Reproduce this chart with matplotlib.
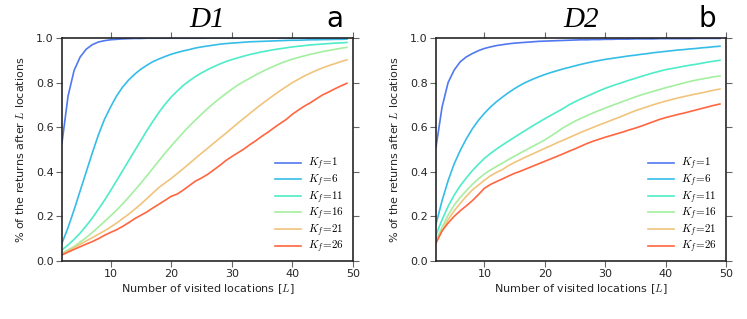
import matplotlib
matplotlib.use("Agg")
import matplotlib.pyplot as plt
import numpy as np

plt.rcParams['mathtext.fontset'] = 'cm'
plt.rcParams['font.family'] = ['DejaVu Sans']

L = list(range(2, 50))
kf_labels = ["$K_f\\!=\\!1$", "$K_f\\!=\\!6$", "$K_f\\!=\\!11$",
             "$K_f\\!=\\!16$", "$K_f\\!=\\!21$", "$K_f\\!=\\!26$"]

# Panel a (D1)
d1_kf1 = [.53, .74, .855, .915, .95, .97, .982, .988, .992, .994, .996, .997, .998, .998,
          .999, .999, .999, .999, .999, .999, .999, .999, .999, .999, 1, 1, 1, 1, 1, 1,
          1, 1, 1, 1, 1, 1, 1, 1, 1, 1, 1, 1, 1, 1, 1, 1, 1, 1]
d1_kf6 = [.08, .15, .23, .315, .40, .485, .565, .635, .69, .74, .78, .812, .838, .86,
          .878, .894, .906, .917, .927, .935, .942, .948, .955, .96, .964, .968, .972,
          .975, .977, .979, .981, .983, .984, .985, .986, .987, .988, .989, .99, .99,
          .991, .992, .992, .993, .993, .994, .994, .995]
d1_kf11 = [.05, .072, .097, .125, .158, .193, .232, .272, .315, .36, .405, .45, .495, .54,
           .585, .627, .667, .703, .735, .762, .787, .808, .827, .843, .858, .871, .883,
           .894, .903, .911, .919, .926, .932, .938, .943, .948, .952, .956, .96, .963,
           .966, .969, .971, .973, .975, .977, .978, .98]
d1_kf16 = [.035, .05, .065, .085, .105, .128, .152, .177, .202, .228, .256, .286, .317,
           .349, .382, .416, .45, .484, .515, .546, .576, .605, .632, .658, .683, .707,
           .729, .75, .77, .789, .805, .82, .835, .849, .862, .874, .886, .896, .905,
           .913, .92, .927, .933, .939, .944, .949, .954, .958]
d1_kf21 = [.03, .045, .06, .075, .09, .105, .12, .135, .152, .17, .19, .21, .232, .255,
           .28, .305, .33, .35, .37, .392, .414, .437, .46, .483, .505, .528, .55, .572,
           .595, .618, .64, .662, .684, .705, .725, .745, .764, .782, .80, .815, .83,
           .843, .855, .866, .876, .885, .894, .902]
d1_kf26 = [.027, .04, .052, .064, .076, .087, .10, .115, .128, .14, .155, .172, .19,
           .205, .22, .238, .255, .272, .29, .30, .318, .338, .358, .372, .388, .408,
           .428, .45, .468, .485, .502, .522, .54, .56, .578, .598, .617, .635, .658,
           .677, .695, .71, .728, .745, .758, .772, .785, .797]

# Panel b (D2)
d2_kf1 = [.51, .69, .80, .856, .893, .915, .93, .943, .953, .96, .966, .97, .974, .977,
          .979, .981, .983, .985, .986, .987, .988, .989, .99, .991, .992, .992, .993,
          .993, .994, .994, .995, .995, .995, .996, .996, .996, .996, .997, .997, .997,
          .997, .997, .997, .998, .998, .998, .998, .998]
d2_kf6 = [.165, .27, .36, .435, .495, .547, .592, .63, .662, .69, .714, .735, .755, .773,
          .789, .803, .815, .826, .836, .845, .853, .861, .868, .875, .882, .888, .894,
          .899, .904, .908, .912, .916, .92, .923, .927, .93, .934, .937, .94, .943,
          .946, .948, .951, .953, .956, .958, .961, .963]
d2_kf11 = [.117, .185, .245, .295, .337, .372, .405, .433, .46, .482, .502, .52, .538,
           .555, .572, .589, .606, .622, .638, .653, .668, .683, .70, .714, .727, .739,
           .751, .763, .774, .784, .793, .802, .811, .819, .828, .836, .844, .851, .858,
           .863, .868, .873, .878, .882, .887, .892, .896, .90]
d2_kf16 = [.095, .15, .205, .25, .285, .315, .343, .368, .39, .408, .424, .439, .455,
           .47, .485, .499, .514, .528, .543, .56, .578, .597, .612, .627, .64, .652,
           .664, .675, .686, .696, .706, .716, .726, .736, .745, .753, .761, .769, .777,
           .784, .791, .798, .805, .811, .816, .821, .826, .83]
d2_kf21 = [.085, .135, .185, .225, .258, .29, .318, .34, .362, .382, .397, .41, .428,
           .442, .455, .468, .48, .493, .505, .517, .53, .541, .553, .565, .577, .588,
           .599, .61, .62, .631, .641, .652, .663, .674, .683, .692, .701, .709, .717,
           .724, .731, .737, .743, .749, .754, .76, .766, .771]
d2_kf26 = [.08, .135, .17, .20, .225, .247, .27, .297, .326, .343, .356, .368, .381,
           .393, .403, .414, .425, .436, .447, .458, .469, .48, .492, .503, .515, .527,
           .537, .546, .555, .563, .571, .579, .588, .596, .605, .615, .625, .635, .643,
           .65, .657, .663, .67, .677, .684, .691, .698, .704]

panels = [
    ("D1", "a", [d1_kf1, d1_kf6, d1_kf11, d1_kf16, d1_kf21, d1_kf26]),
    ("D2", "b", [d2_kf1, d2_kf6, d2_kf11, d2_kf16, d2_kf21, d2_kf26]),
]
colors = ['#5078f0', '#35bde8', '#4eecc8', '#a4efa0', '#f0c47c', '#ff6640']

fig = plt.figure(figsize=(7.47, 3.19), dpi=100)
rects = [[62/747, 58/319, 291/747, 223/319], [436/747, 58/319, 290/747, 223/319]]
for (title, letter, series), rect in zip(panels, rects):
    ax = fig.add_axes(rect)
    for ys, c, lab in zip(series, colors, kf_labels):
        ax.plot(L, ys, color=c, lw=1.2, label=lab)
    ax.set_xlim(2, 50)
    ax.set_ylim(0, 1.0)
    ax.set_xticks([10, 20, 30, 40, 50])
    ax.set_yticks([0.0, 0.2, 0.4, 0.6, 0.8, 1.0])
    ax.set_yticklabels(["0.0", "0.2", "0.4", "0.6", "0.8", "1.0"])
    ax.tick_params(direction='out', length=4, width=0.8, color='#666666',
                   labelsize=8, labelcolor='#262626', top=True, right=True, pad=2)
    for s in ax.spines.values():
        s.set_color('#262626')
        s.set_linewidth(1.2)
    ax.set_xlabel("Number of visited locations [$L$]", fontsize=8, color='#262626', labelpad=2)
    ax.set_ylabel("% of the returns after $L$ locations", fontsize=8, color='#262626', labelpad=7)
    leg = ax.legend(loc='lower right', frameon=False, fontsize=8, handlelength=2.3,
                    labelspacing=0.01, borderaxespad=0.0, handletextpad=0.7,
                    bbox_to_anchor=(0.985, 0.005))
    x0, y0, w, h = rect
    fig.text(x0 + w/2, 1 - 27/319, title, ha='center', va='baseline', fontsize=21,
             family='Liberation Serif', style='italic')
    fig.text(x0 + w - 10/747, 1 - 27/319, letter, ha='right', va='baseline', fontsize=20)

fig.savefig("out.png", dpi=100)
